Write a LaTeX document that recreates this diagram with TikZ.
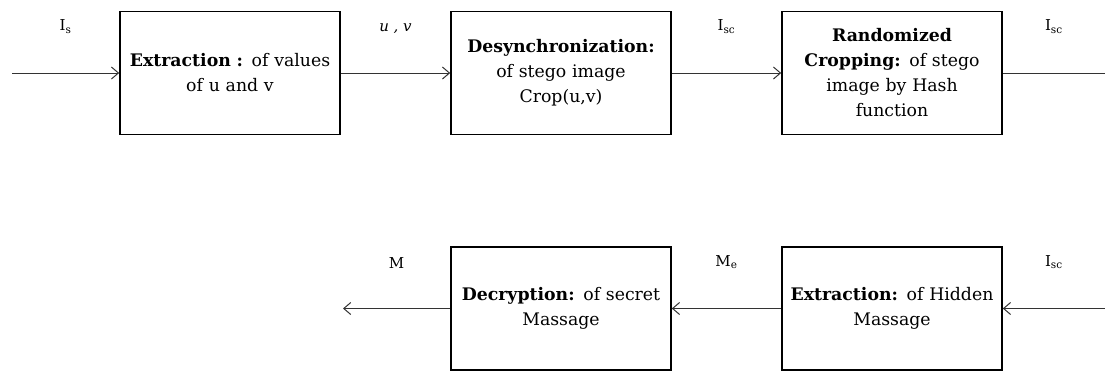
\documentclass[tikz,border=0pt]{standalone}
\usepackage{fontspec}
\setmainfont{DejaVu Serif}
\usetikzlibrary{arrows.meta}
\begin{document}
\begin{tikzpicture}[x=1pt,y=-1pt,
    stagebox/.style={draw,line width=1.6pt,minimum width=220pt,minimum height=123pt,
      text width=217pt,align=center,inner sep=0pt,font=\fontsize{17.3}{25}\selectfont},
    flowlabel/.style={midway,above=36pt,font=\fontsize{15}{17}\selectfont},
    flow/.style={line width=1pt,draw=black!80}]
  \useasboundingbox (0,0) rectangle (1105,370);
  \draw
    (230,73) node[stagebox] (extract){\textbf{Extraction :} of values\\of u and v}
    (561,73) node[stagebox] (desync){\textbf{Desynchronization:}\\of stego image\\Crop(u,v)}
    (892,73) node[stagebox] (crop){\textbf{Randomized}\\\textbf{Cropping:} of stego\\image by Hash\\function}
    (561,308.5) node[stagebox] (decrypt){\textbf{Decryption:} of secret\\Massage}
    (892,308.5) node[stagebox] (hidden){\textbf{Extraction:} of Hidden\\Massage};
  \coordinate (in) at (12,73);
  \coordinate (topout) at (1105,73);
  \coordinate (botin) at (1105,308.5);
  \coordinate (out) at (343,308.5);
  \begin{scope}[flow,-{Straight Barb[length=7pt,width=12pt]}]
    \draw (in) -- node[flowlabel]{I\textsubscript{s}} (extract);
    \draw (extract) -- node[flowlabel]{\textit{u , v}} (desync);
    \draw (desync) -- node[flowlabel]{I\textsubscript{sc}} (crop);
    \draw (botin) -- node[flowlabel]{I\textsubscript{sc}} (hidden);
    \draw (hidden) -- node[flowlabel]{M\textsubscript{e}} (decrypt);
    \draw (decrypt) -- node[flowlabel]{M} (out);
  \end{scope}
  \draw[flow] (crop) -- node[flowlabel]{I\textsubscript{sc}} (topout);
\end{tikzpicture}
\end{document}
